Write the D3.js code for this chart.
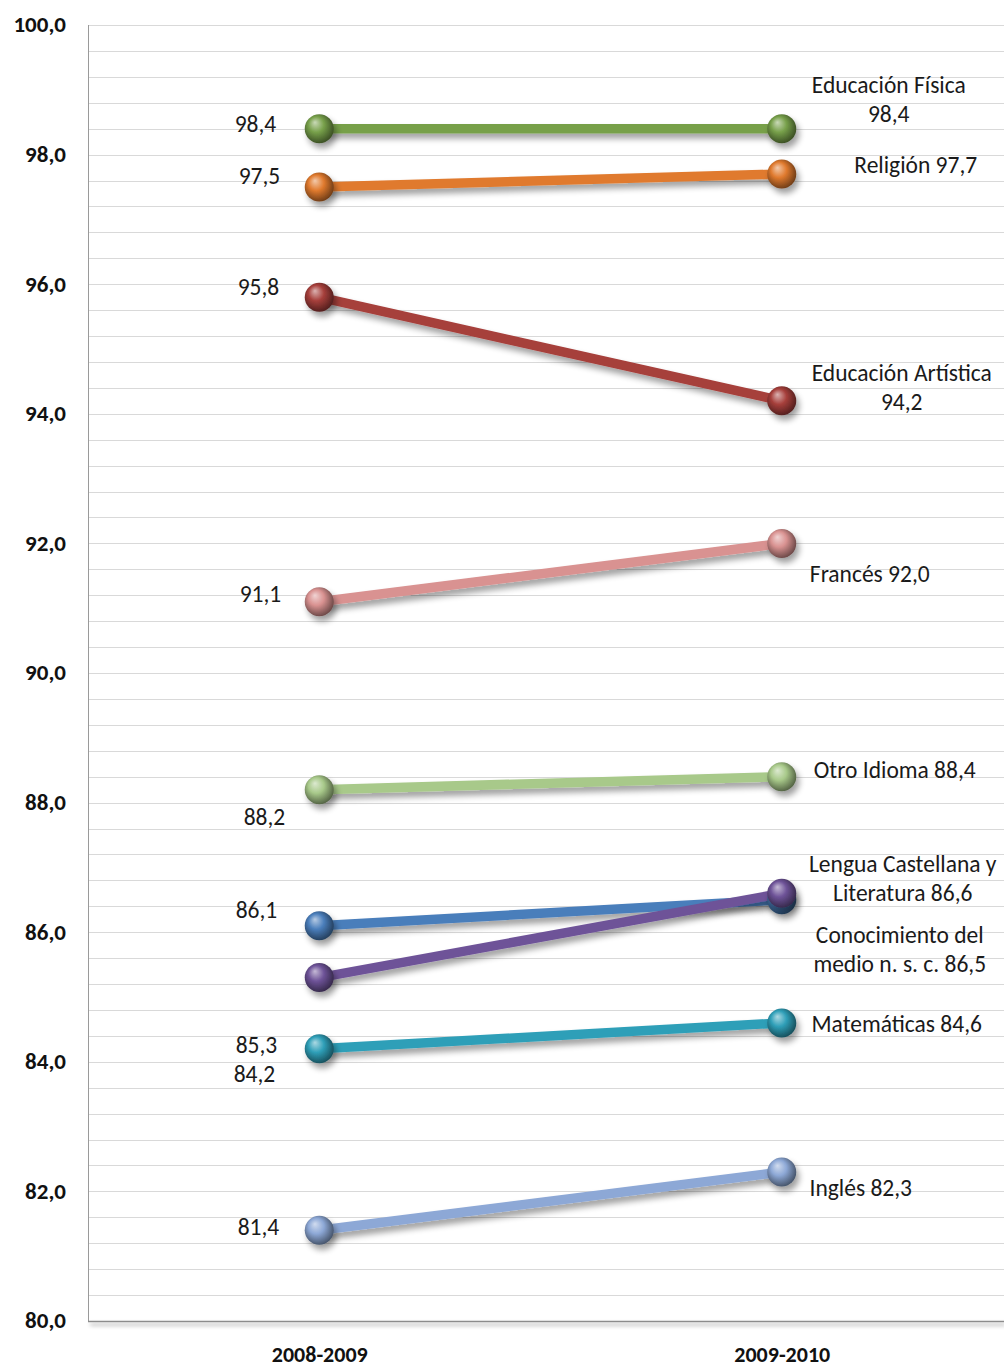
<!DOCTYPE html>
<html><head><meta charset="utf-8">
<script src="https://cdn.jsdelivr.net/npm/d3@7"></script>
<style>
body{margin:0;background:#fff;}
svg{display:block;}
text{font-family:Carlito,"Open Sans","Liberation Sans",sans-serif;}
</style></head><body>
<svg id="c" width="1004" height="1369"></svg>
<script>
const years = ["2008-2009", "2009-2010"];
const subjects = ["Educación Física", "Religión", "Educación Artística", "Francés", "Otro Idioma",
  "Conocimiento del medio n. s. c.", "Lengua Castellana y Literatura", "Matemáticas", "Inglés"];
const values2008 = [98.4, 97.5, 95.8, 91.1, 88.2, 86.1, 85.3, 84.2, 81.4];
const values2009 = [98.4, 97.7, 94.2, 92.0, 88.4, 86.5, 86.6, 84.6, 82.3];
const leftLabels = ["98,4", "97,5", "95,8", "91,1", "88,2", "86,1", "85,3", "84,2", "81,4"];
const rightLabels = [["Educación Física", "98,4"], ["Religión  97,7"], ["Educación Artística", "94,2"],
  ["Francés 92,0"], ["Otro Idioma 88,4"], ["Conocimiento del", "medio n. s. c. 86,5"],
  ["Lengua Castellana y", "Literatura 86,6"], ["Matemáticas 84,6"], ["Inglés 82,3"]];
const yTicks = [80, 82, 84, 86, 88, 90, 92, 94, 96, 98, 100];

(function () {
const colors = ["#77a04a", "#e07a2e", "#a63f3b", "#d99291", "#a8c98a", "#4a7ebb", "#6e5398", "#2f9fb8", "#8da8d6"];
const leftOff = [[-65, -2], [-61, -9], [-62, -8], [-60, -5], [-56, 30], [-64, -13], [-64, 70], [-66, 28], [-62, -1]];
const rightOff = [[107, -41], [134, -7], [120, -25], [88, 33], [113, -4], [118, 38], [121, -27], [115, 3], [79, 18]];

const svg = d3.select("#c");
const W = 1004;
const pLeft = 88, pTop = 25, pBottom = 1321;
const x = d3.scalePoint().domain(years).range([pLeft, 1013]).padding(0.5);
const y = d3.scaleLinear().domain([80, 100]).range([pBottom, pTop]);

const defs = svg.append("defs");
function shadowFilter(id, blur, dx, dy, a) {
  const f = defs.append("filter").attr("id", id).attr("filterUnits", "userSpaceOnUse")
    .attr("x", 0).attr("y", 0).attr("width", 1004).attr("height", 1369);
  f.append("feGaussianBlur").attr("in", "SourceAlpha").attr("stdDeviation", blur);
  f.append("feOffset").attr("dx", dx).attr("dy", dy);
  f.append("feComponentTransfer").append("feFuncA").attr("type", "linear").attr("slope", a);
  const m = f.append("feMerge"); m.append("feMergeNode"); m.append("feMergeNode").attr("in", "SourceGraphic");
}
shadowFilter("sh", 3, 3, 5, 0.38);
shadowFilter("axsh", 2, 2, 3, 0.45);

colors.forEach((c, i) => {
  const g = defs.append("radialGradient").attr("id", "g" + i).attr("cx", "45%").attr("cy", "45%").attr("r", "60%").attr("fx", "35%").attr("fy", "28%");
  g.append("stop").attr("offset", "0%").attr("stop-color", d3.interpolateRgb(c, "#fff")(0.6));
  g.append("stop").attr("offset", "45%").attr("stop-color", c);
  g.append("stop").attr("offset", "100%").attr("stop-color", d3.interpolateRgb(c, "#000")(0.55));
});

const grid = d3.range(80.4, 100.001, 0.4);
svg.append("g").selectAll("line").data(grid).join("line")
  .attr("x1", pLeft).attr("x2", W).attr("y1", d => Math.round(y(d)) + 0.5).attr("y2", d => Math.round(y(d)) + 0.5)
  .attr("stroke", "#d9d9d9").attr("stroke-width", 1.2);

svg.append("line").attr("x1", pLeft + 0.5).attr("x2", pLeft + 0.5).attr("y1", pTop).attr("y2", pBottom).attr("stroke", "#9a9a9a").attr("stroke-width", 1);
svg.append("line").attr("x1", pLeft).attr("x2", W).attr("y1", pBottom + 0.5).attr("y2", pBottom + 0.5).attr("stroke", "#8c8c8c").attr("stroke-width", 1.5).attr("filter", "url(#axsh)");

const tickFont = "Carlito,'Open Sans','Liberation Sans',sans-serif";
const yAxis = d3.axisLeft(y).tickValues(yTicks).tickSize(0).tickPadding(0).tickFormat(d => d3.format(".1f")(d).replace(".", ","));
const ya = svg.append("g").attr("transform", `translate(66,0)`).call(yAxis);
ya.select(".domain").remove();
ya.selectAll("text").attr("font-size", 23).attr("font-weight", "bold").attr("fill", "#111").attr("dy", "0.3em")
  .style("font-family", tickFont);

const xAxis = d3.axisBottom(x).tickSize(0).tickPadding(0);
const xa = svg.append("g").attr("transform", `translate(0,1362)`).call(xAxis);
xa.select(".domain").remove();
xa.selectAll("text").attr("font-size", 22).attr("font-weight", "bold").attr("fill", "#111").attr("dy", 0).attr("y", 0)
  .style("font-family", tickFont);

const series = subjects.map((s, i) => ({ name: s, i, v: [values2008[i], values2009[i]] }));
const line = d3.line().x((d, k) => x(years[k])).y(d => y(d));
const sg = svg.append("g").selectAll("g").data(series).join("g");
sg.append("path").attr("d", d => line(d.v)).attr("fill", "none").attr("stroke", d => colors[d.i]).attr("stroke-width", 9.5).attr("filter", "url(#sh)");
const mg = svg.append("g");
series.forEach(d => {
  d.v.forEach((v, k) => {
    mg.append("circle").attr("cx", x(years[k])).attr("cy", y(v)).attr("r", 14.5)
      .attr("fill", `url(#g${d.i})`).attr("filter", "url(#sh)");
  });
});

const lg = svg.append("g").attr("font-size", 23.5).attr("fill", "#1a1a1a");
series.forEach(d => {
  const px = x(years[0]), py = y(d.v[0]);
  lg.append("text").attr("x", px + leftOff[d.i][0] + 22).attr("y", py + leftOff[d.i][1]).attr("text-anchor", "end")
    .attr("dominant-baseline", "middle").text(leftLabels[d.i]);
  const qx = x(years[1]), qy = y(d.v[1]);
  rightLabels[d.i].forEach((t, j) => {
    lg.append("text").attr("x", qx + rightOff[d.i][0]).attr("y", qy + rightOff[d.i][1] + j * 29)
      .attr("text-anchor", "middle").attr("dominant-baseline", "middle").text(t);
  });
});
})();
</script>
</body></html>
